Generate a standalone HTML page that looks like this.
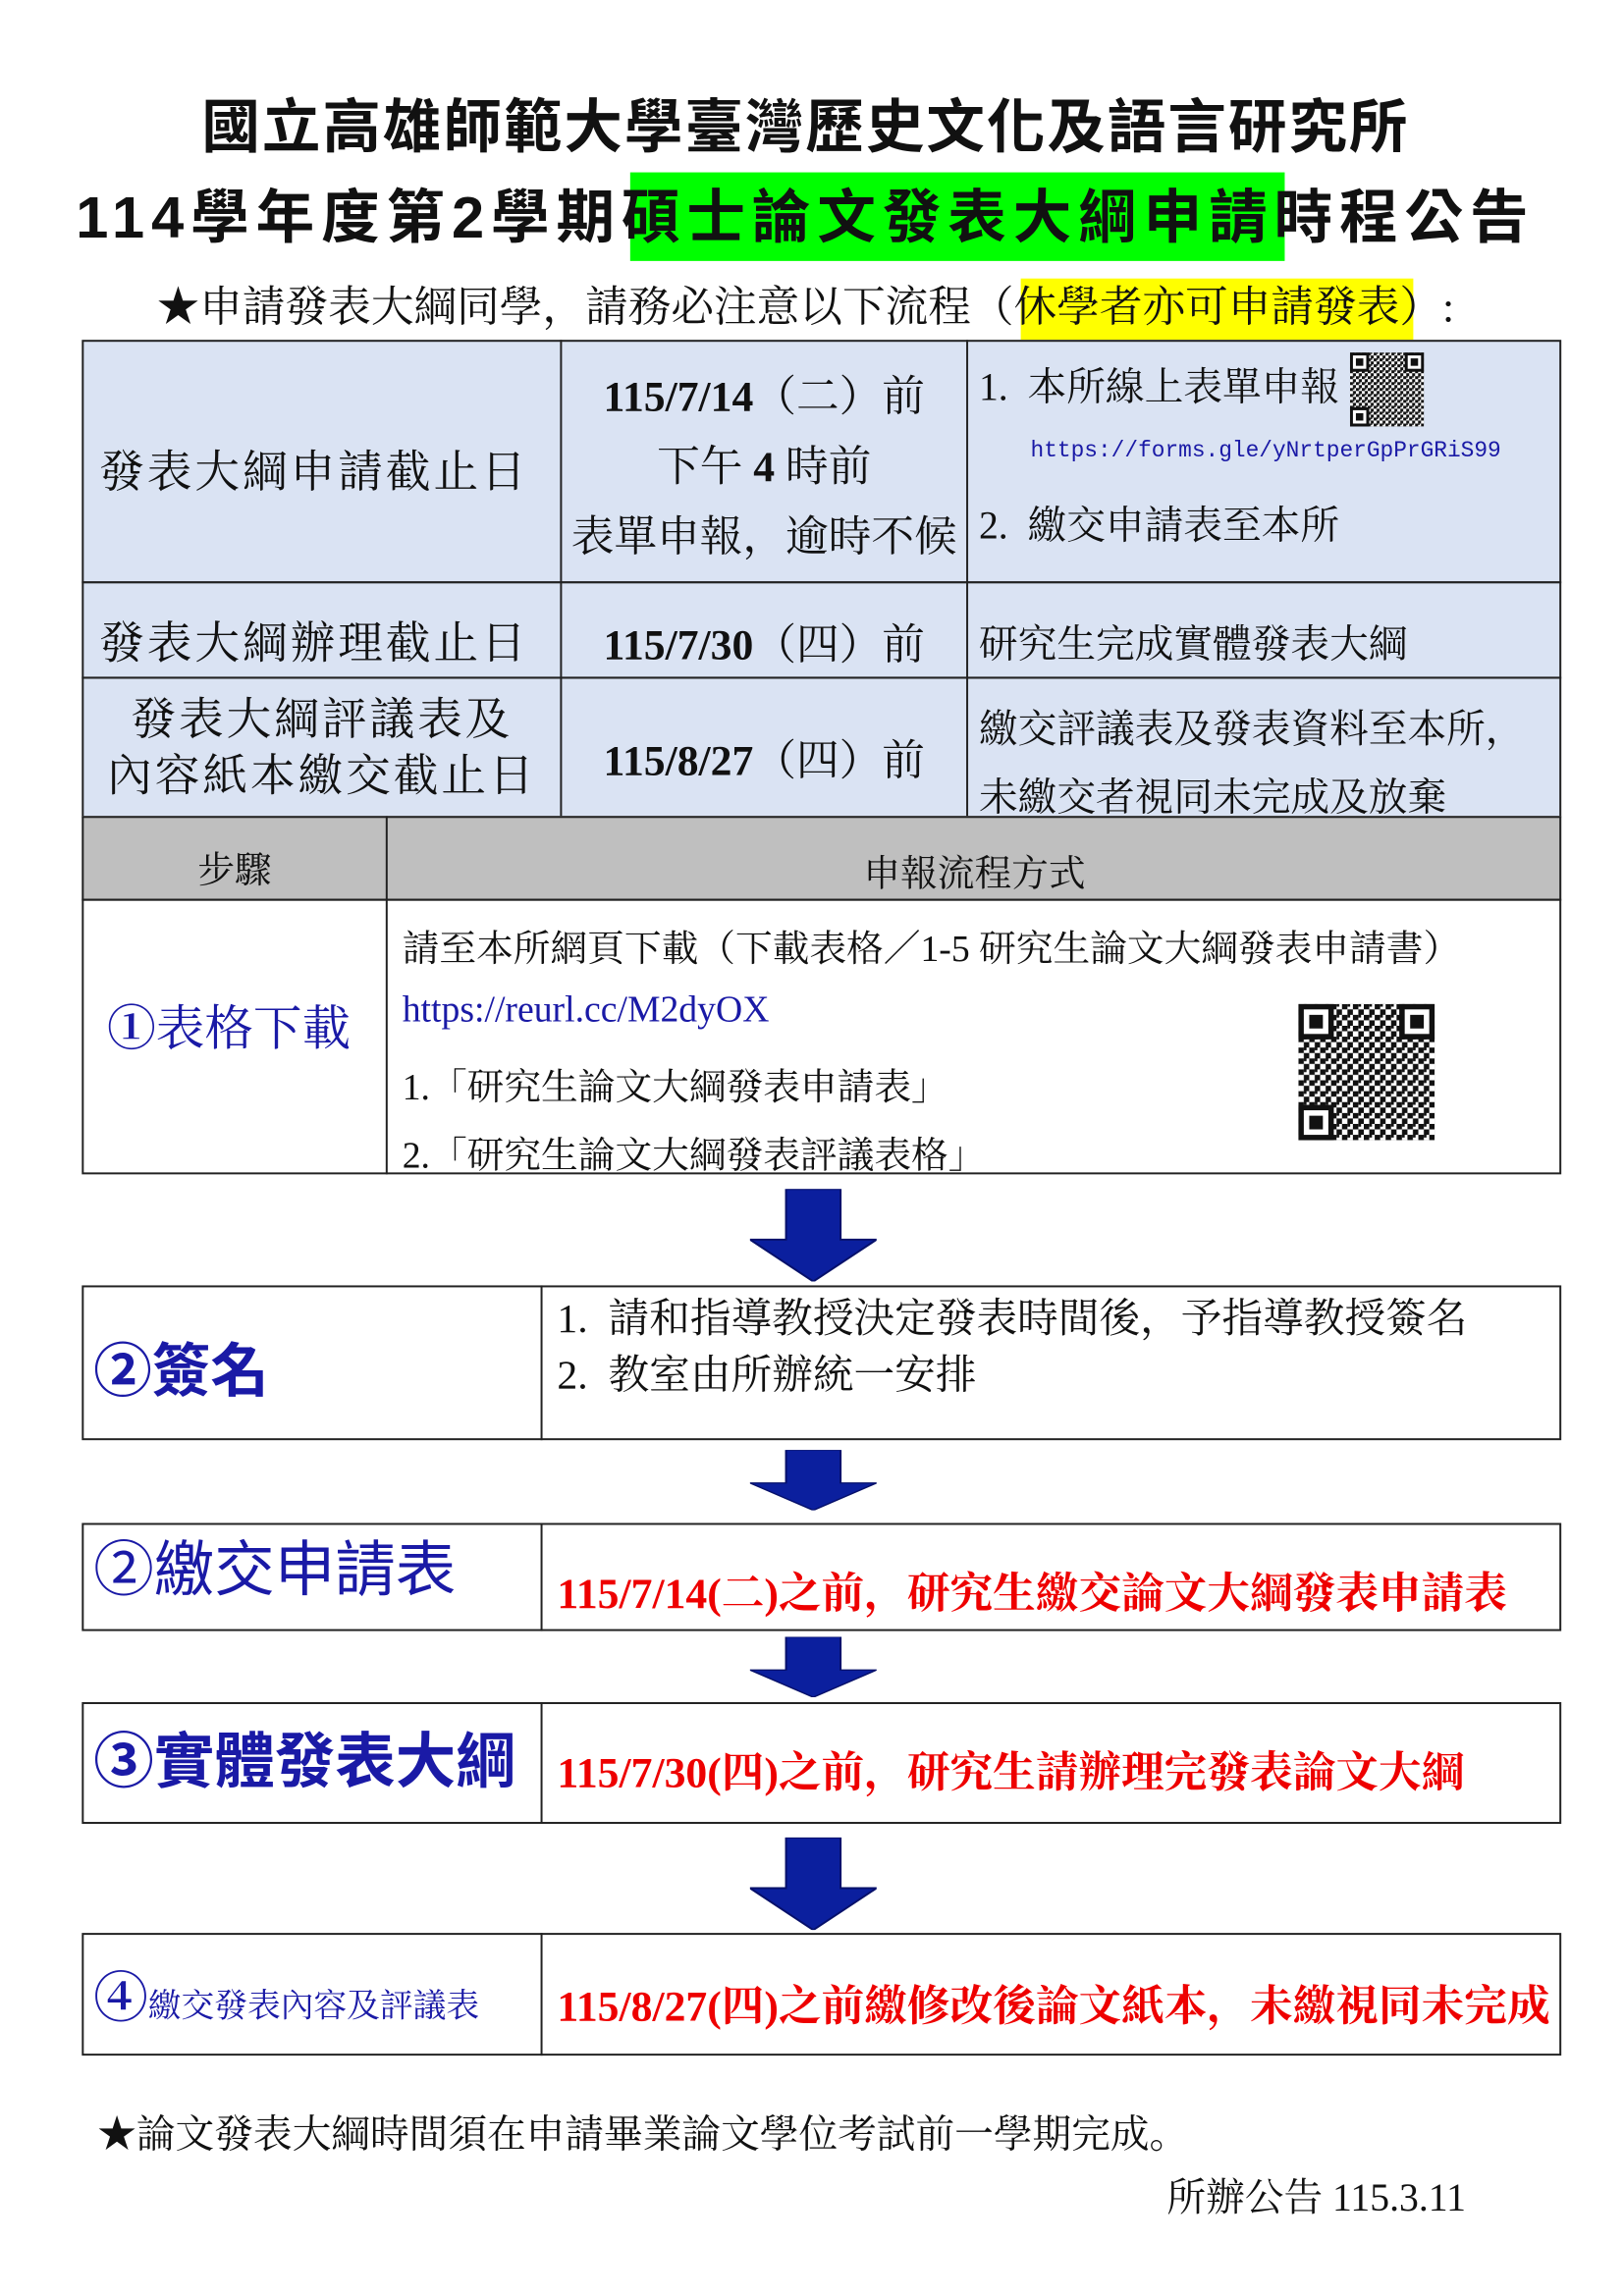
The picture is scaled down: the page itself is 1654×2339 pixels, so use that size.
<!DOCTYPE html>
<html><head><meta charset="utf-8"><style>
body{margin:0;width:1654px;height:2339px;background:#fff;position:relative;overflow:hidden;font-family:"Liberation Serif","Noto Serif CJK SC","Noto Sans CJK TC",serif;color:#111}
#w{position:absolute;left:0;top:0;width:1654px;height:2339px;transform:scale(0.992);transform-origin:0 0}
.a{position:absolute;white-space:nowrap}
.b{position:absolute;box-sizing:border-box;border:2px solid #222}
.h{font-family:"Liberation Sans","Noto Sans CJK TC",sans-serif;font-weight:bold}
.c{text-align:center}
.blue{color:#1a1aa6}
.red{color:#e00;font-weight:bold}
</style></head><body>
<svg width="0" height="0" style="position:absolute"><defs>
<pattern id="qp" width="8" height="8" patternUnits="userSpaceOnUse"><rect width="8" height="8" fill="#fff"/><rect x="0" y="0" width="4" height="4" fill="#111"/><rect x="4" y="4" width="4" height="4" fill="#111"/><rect x="4" y="0" width="2" height="2" fill="#111"/></pattern>
<g id="qr"><rect width="100" height="100" fill="url(#qp)"/><rect x="0" y="0" width="26" height="26" fill="#111"/><rect x="4" y="4" width="18" height="18" fill="#fff"/><rect x="8" y="8" width="10" height="10" fill="#111"/><rect x="74" y="0" width="26" height="26" fill="#111"/><rect x="78" y="4" width="18" height="18" fill="#fff"/><rect x="82" y="8" width="10" height="10" fill="#111"/><rect x="0" y="74" width="26" height="26" fill="#111"/><rect x="4" y="78" width="18" height="18" fill="#fff"/><rect x="8" y="82" width="10" height="10" fill="#111"/></g>
<g id="arr"><polygon points="37,0 93,0 93,52 130,52 65,95 0,52 37,52" fill="#0b1f9e" stroke="#06106a" stroke-width="2"/></g>
</defs></svg>
<div id="w">
<div class="a h c" style="left:0;width:1654px;top:95px;font-size:60px;line-height:72px;letter-spacing:2px">國立高雄師範大學臺灣歷史文化及語言研究所</div>
<div class="a" style="left:647px;top:177px;width:672px;height:91px;background:#00ff00"></div>
<div class="a h c" style="left:0;width:1654px;top:188px;font-size:60px;line-height:72px;letter-spacing:7px">114學年度第2學期碩士論文發表大綱申請時程公告</div>
<div class="a" style="left:1048px;top:286px;width:403px;height:63px;background:#ffff00"></div>
<div class="a c" style="left:0;width:1654px;top:288px;font-size:44px;line-height:56px">★申請發表大綱同學，請務必注意以下流程（休學者亦可申請發表）:</div>

<div class="a" style="left:84px;top:349px;width:1519px;height:489px;background:#dae3f3"></div>
<div class="b" style="left:84px;top:349px;width:1519px;height:250px"></div>
<div class="b" style="left:84px;top:597px;width:1519px;height:100px"></div>
<div class="b" style="left:84px;top:695px;width:1519px;height:145px"></div>
<div class="a" style="left:575px;top:349px;width:2px;height:489px;background:#222"></div>
<div class="a" style="left:992px;top:349px;width:2px;height:489px;background:#222"></div>

<div class="a" style="left:102px;top:448px;font-size:46px;letter-spacing:3px">發表大綱申請截止日</div>
<div class="a c" style="left:577px;width:415px;top:372px;font-size:44px;line-height:72px"><b>115/7/14</b>（二）前<br>下午 <b>4</b> 時前<br>表單申報，逾時不候</div>
<div class="a" style="left:1005px;top:366px;font-size:40px">1.&nbsp; 本所線上表單申報</div>
<svg class="a" style="left:1386px;top:362px" width="76" height="76" viewBox="0 0 100 100"><use href="#qr"/></svg>
<div class="a blue" style="left:1058px;top:450px;font-size:23px;font-family:'Liberation Mono',monospace">https://forms.gle/yNrtperGpPrGRiS99</div>
<div class="a" style="left:1005px;top:508px;font-size:40px">2.&nbsp; 繳交申請表至本所</div>

<div class="a" style="left:102px;top:624px;font-size:46px;letter-spacing:3px">發表大綱辦理截止日</div>
<div class="a c" style="left:577px;width:415px;top:626px;font-size:44px"><b>115/7/30</b>（四）前</div>
<div class="a" style="left:1005px;top:630px;font-size:40px">研究生完成實體發表大綱</div>

<div class="a c" style="left:86px;width:489px;top:710px;font-size:46px;line-height:58px;letter-spacing:3px">發表大綱評議表及<br>內容紙本繳交截止日</div>
<div class="a c" style="left:577px;width:415px;top:745px;font-size:44px"><b>115/8/27</b>（四）前</div>
<div class="a" style="left:1005px;top:714px;font-size:40px;line-height:70px">繳交評議表及發表資料至本所，<br>未繳交者視同未完成及放棄</div>

<div class="b" style="left:84px;top:838px;width:1519px;height:87px;background:#bfbfbf"></div>
<div class="a" style="left:396px;top:838px;width:2px;height:368px;background:#222"></div>
<div class="a c" style="left:86px;width:310px;top:862px;font-size:38px">步驟</div>
<div class="a c" style="left:398px;width:1205px;top:866px;font-size:38px">申報流程方式</div>
<div class="b" style="left:84px;top:923px;width:1519px;height:283px"></div>
<div class="a blue" style="left:110px;top:1016px;font-size:50px"><b>①</b>表格下載</div>
<div class="a" style="left:413px;top:943px;font-size:38px">請至本所網頁下載（下載表格／1-5 研究生論文大綱發表申請書）</div>
<div class="a blue" style="left:413px;top:1015px;font-size:38px">https://reurl.cc/M2dyOX</div>
<div class="a" style="left:413px;top:1085px;font-size:38px">1.「研究生論文大綱發表申請表」</div>
<div class="a" style="left:413px;top:1155px;font-size:38px">2.「研究生論文大綱發表評議表格」</div>
<svg class="a" style="left:1333px;top:1031px" width="140" height="140" viewBox="0 0 100 100"><use href="#qr"/></svg>

<svg class="a" style="left:770px;top:1221px" width="130" height="95" viewBox="0 0 130 95"><use href="#arr"/></svg>

<div class="b" style="left:84px;top:1320px;width:1519px;height:159px"></div>
<div class="a" style="left:555px;top:1320px;width:2px;height:159px;background:#222"></div>
<div class="a blue h" style="left:96px;top:1360px;font-size:60px">②簽名</div>
<div class="a" style="left:572px;top:1326px;font-size:42px;line-height:58px">1.&nbsp; 請和指導教授決定發表時間後，予指導教授簽名<br>2.&nbsp; 教室由所辦統一安排</div>

<svg class="a" style="left:770px;top:1489px" width="130" height="62" viewBox="0 0 130 95" preserveAspectRatio="none"><use href="#arr"/></svg>

<div class="b" style="left:84px;top:1564px;width:1519px;height:111px"></div>
<div class="a" style="left:555px;top:1564px;width:2px;height:111px;background:#222"></div>
<div class="a blue h" style="left:96px;top:1561px;font-size:62px;font-weight:normal">②繳交申請表</div>
<div class="a red" style="left:572px;top:1600px;font-size:44px">115/7/14(二)之前，研究生繳交論文大綱發表申請表</div>

<svg class="a" style="left:770px;top:1681px" width="130" height="62" viewBox="0 0 130 95" preserveAspectRatio="none"><use href="#arr"/></svg>

<div class="b" style="left:84px;top:1748px;width:1519px;height:125px"></div>
<div class="a" style="left:555px;top:1748px;width:2px;height:125px;background:#222"></div>
<div class="a blue h" style="left:96px;top:1758px;font-size:62px">③實體發表大綱</div>
<div class="a red" style="left:572px;top:1784px;font-size:44px">115/7/30(四)之前，研究生請辦理完發表論文大綱</div>

<svg class="a" style="left:770px;top:1887px" width="130" height="95" viewBox="0 0 130 95"><use href="#arr"/></svg>

<div class="b" style="left:84px;top:1985px;width:1519px;height:126px"></div>
<div class="a" style="left:555px;top:1985px;width:2px;height:126px;background:#222"></div>
<div class="a blue" style="left:96px;top:2008px;font-size:34px"><b style="font-size:56px">④</b>繳交發表內容及評議表</div>
<div class="a red" style="left:572px;top:2024px;font-size:44px">115/8/27(四)之前繳修改後論文紙本，未繳視同未完成</div>

<div class="a" style="left:100px;top:2160px;font-size:40px">★論文發表大綱時間須在申請畢業論文學位考試前一學期完成。</div>
<div class="a" style="left:1198px;top:2225px;font-size:40px">所辦公告 115.3.11</div>
</div>
</body></html>
